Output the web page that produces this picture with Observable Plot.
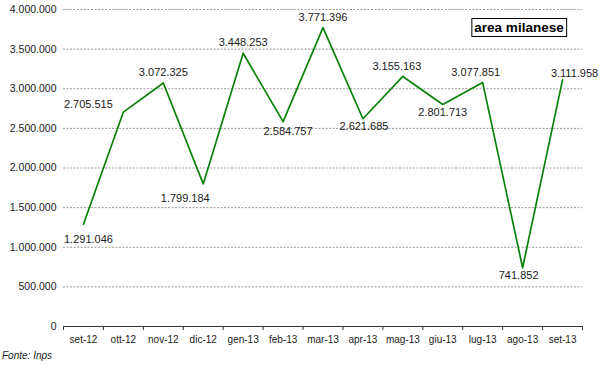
<!DOCTYPE html>
<html>
<head>
<meta charset="utf-8">
<script src="https://cdn.jsdelivr.net/npm/d3@7"></script>
<script src="https://cdn.jsdelivr.net/npm/@observablehq/plot@0.6"></script>
<style>
  html, body { margin: 0; padding: 0; background: #fff; }
  #chart svg { display: block; }
</style>
</head>
<body>
<div id="chart"></div>
<script>
const months = ["set-12","ott-12","nov-12","dic-12","gen-13","feb-13","mar-13","apr-13","mag-13","giu-13","lug-13","ago-13","set-13"];
const values = [1291046, 2705515, 3072325, 1799184, 3448253, 2584757, 3771396, 2621685, 3155163, 2801713, 3077851, 741852, 3111958];
const yTicks = [0, 500000, 1000000, 1500000, 2000000, 2500000, 3000000, 3500000, 4000000];
const seriesName = "area milanese";
const source = "Fonte: Inps";

// label placement (style): [dx, dy] in pixels relative to each point
const labelOffset = [[5,15],[-35,-8],[0,-11],[-18,15],[0,-11],[5,10],[0,-10],[1,8],[-6,-10],[0,8],[-7,-10],[-4,8],[12,-6]];

const loc = d3.formatLocale({decimal: ",", thousands: ".", grouping: [3], currency: ["", "€"]});
const fmt = loc.format(",");

const data = months.map((m, i) => ({i, m, v: values[i]}));
const idx = months.map((_, i) => i);
const bounds = months.map((_, i) => i - 0.5).concat([months.length - 0.5]);

const labelMarks = data.map((d, k) => Plot.text([d], {
  x: "i", y: "v", text: dd => fmt(dd.v),
  dx: labelOffset[k][0], dy: labelOffset[k][1],
  fontSize: 11, fill: "#1a1a1a", fontFamily: "Liberation Sans, Arial, sans-serif"
}));

const plot = Plot.plot({
  width: 600,
  height: 365,
  marginLeft: 63,
  marginRight: 18,
  marginTop: 9,
  marginBottom: 39,
  style: {fontFamily: "Liberation Sans, Arial, sans-serif", background: "#fff"},
  x: {type: "linear", domain: [-0.5, months.length - 0.5]},
  y: {domain: [0, 4000000]},
  marks: [
    Plot.gridY(yTicks.filter(t => t > 0), {stroke: "#9a9a9a", strokeOpacity: 1, strokeDasharray: "2,1.5", strokeWidth: 1}),
    Plot.axisY(yTicks, {tickSize: 0, tickPadding: 7, tickFormat: fmt, fontSize: 10.5, fill: "#1a1a1a", label: null}),
    Plot.axisX(idx, {tickSize: 0, tickPadding: 9, tickFormat: i => months[i], fontSize: 10, fill: "#1a1a1a", label: null}),
    Plot.axisX(bounds, {tickSize: 4, tickFormat: () => "", stroke: "#333", label: null}),
    Plot.ruleY([0], {stroke: "#333", strokeWidth: 1.2}),
    Plot.line(data, {x: "i", y: "v", stroke: "#0a820a", strokeWidth: 1.7}),
    ...labelMarks
  ]
});

document.getElementById("chart").append(plot);

const svg = d3.select(plot);
// caption
svg.append("text")
  .attr("x", 2).attr("y", 359)
  .attr("text-anchor", "start")
  .attr("font-size", 10).attr("font-style", "italic")
  .attr("fill", "#1a1a1a")
  .attr("font-family", "Liberation Sans, Arial, sans-serif")
  .text(source);
// legend box
const lg = svg.append("g");
const t = lg.append("text")
  .attr("x", 519).attr("y", 32)
  .attr("text-anchor", "middle")
  .attr("font-size", 13.5).attr("font-weight", "bold")
  .attr("fill", "#000")
  .attr("font-family", "Liberation Sans, Arial, sans-serif")
  .text(seriesName);
const bb = t.node().getBBox();
lg.insert("rect", "text")
  .attr("x", bb.x - 2.5).attr("y", 18.5)
  .attr("width", bb.width + 5).attr("height", 18)
  .attr("fill", "#fff").attr("stroke", "#000").attr("stroke-width", 1);
</script>
</body>
</html>
